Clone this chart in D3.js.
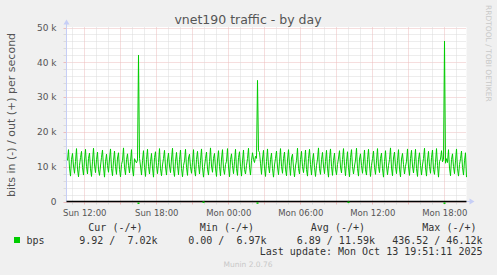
<!DOCTYPE html>
<html>
<head>
<meta charset="utf-8">
<script src="https://cdn.jsdelivr.net/npm/d3@7"></script>
<style>
  body { margin: 0; background: #f0f0f0; }
  svg { display: block; }
  text { font-family: "DejaVu Sans", sans-serif; }
  .mono { font-family: "DejaVu Sans Mono", monospace; white-space: pre; }
</style>
</head>
<body>
<div id="chart"></div>
<script>
const W = 497, H = 275;
const plotLeft = 66.5, plotRight = 466.5, plotTop = 27.5, plotBottom = 201.5;

// one sample every 5 minutes, 400 samples ending at the last update
const startTime = new Date(2025, 9, 12, 10, 31, 11);
const endTime = new Date(2025, 9, 13, 19, 51, 11);
const stepMs = 5 * 60 * 1000;

// out traffic, k bits per second
const outKbps = [
  11.8, 14.9, 9.6, 7.3, 12.1, 13.8, 10.2, 8.1, 11.5, 15.2, 9.3, 7.1, 10.4, 12.6, 14.4, 9.8, 7.6, 11.9, 15.0, 10.1,
  7.9, 12.4, 13.9, 9.4, 7.2, 11.6, 15.3, 10.5, 8.3, 12.0, 14.2, 9.1, 7.5, 10.2, 12.7, 14.8, 9.9, 7.0, 11.4, 13.6,
  10.3, 8.4, 12.2, 15.1, 9.5, 7.4, 11.7, 14.5, 10.0, 7.8, 12.5, 14.0, 9.2, 7.1, 10.6, 11.8, 15.4, 9.7, 7.7, 12.0,
  13.7, 10.4, 8.2, 11.5, 14.9, 9.3, 7.3, 12.3, 11.6, 11.1, 11.9, 42.1, 12.4, 10.2, 7.6, 11.8, 14.6, 9.8, 7.2, 12.1,
  15.0, 10.1, 7.9, 11.4, 13.8, 9.6, 7.0, 12.6, 14.3, 10.3, 8.0, 11.2, 15.2, 9.4, 7.4, 10.5, 12.4, 14.7, 9.9, 7.6,
  11.9, 13.9, 10.2, 8.3, 12.2, 15.3, 9.1, 7.2, 11.6, 14.1, 10.4, 7.7, 12.0, 14.8, 9.5, 7.1, 10.3, 11.7, 15.0, 9.8,
  7.5, 12.5, 13.6, 10.0, 8.1, 11.3, 14.9, 9.2, 7.3, 12.1, 14.4, 10.6, 7.9, 11.8, 15.1, 9.7, 7.0, 10.1, 12.3, 14.2,
  9.3, 7.6, 11.5, 15.4, 10.2, 8.4, 12.4, 13.8, 9.6, 7.2, 11.9, 14.6, 10.0, 7.4, 12.2, 14.9, 9.4, 7.8, 10.6, 11.6,
  15.2, 9.9, 7.1, 12.0, 13.7, 10.3, 8.0, 11.4, 15.0, 9.5, 7.5, 12.6, 14.3, 10.1, 7.3, 11.7, 14.8, 9.2, 7.9, 10.4,
  12.3, 15.3, 9.8, 7.6, 11.8, 14.0, 12.1, 11.2, 13.0, 12.4, 34.8, 14.6, 14.1, 11.0, 7.8, 12.2, 14.7, 9.6, 7.2, 11.5,
  15.1, 10.3, 8.2, 12.0, 13.9, 9.4, 7.0, 10.5, 12.4, 14.5, 9.9, 7.7, 11.6, 15.2, 10.1, 8.1, 12.3, 14.2, 9.3, 7.4,
  11.9, 14.9, 10.4, 7.5, 12.5, 13.6, 9.7, 7.1, 10.2, 11.8, 15.3, 9.5, 7.9, 12.1, 14.4, 10.0, 8.3, 11.3, 14.8, 9.2,
  7.3, 12.4, 15.0, 10.6, 7.6, 11.7, 13.8, 9.8, 7.2, 10.3, 12.2, 15.4, 9.4, 7.8, 12.0, 14.1, 10.2, 8.0, 11.5, 14.7,
  9.6, 7.0, 12.3, 15.1, 10.1, 7.5, 11.8, 13.9, 9.3, 7.7, 10.6, 12.5, 14.6, 9.9, 8.2, 12.1, 15.2, 10.4, 7.4, 11.4,
  14.3, 9.7, 7.1, 12.6, 14.9, 10.0, 7.9, 10.2, 11.9, 15.3, 9.5, 7.3, 12.2, 13.7, 10.3, 8.1, 11.6, 14.8, 9.1, 7.6,
  12.0, 15.0, 10.5, 7.2, 10.4, 12.3, 14.5, 9.8, 7.8, 11.7, 15.2, 10.1, 8.3, 12.4, 13.9, 9.4, 7.0, 11.5, 14.6, 10.2,
  7.7, 10.3, 12.1, 15.4, 9.6, 7.4, 12.5, 14.2, 10.0, 8.0, 11.8, 14.9, 9.3, 7.1, 12.2, 13.8, 10.6, 7.9, 10.1, 11.6,
  15.1, 9.9, 7.5, 12.3, 14.7, 10.2, 8.2, 11.4, 15.0, 9.5, 7.2, 12.0, 14.0, 10.4, 7.6, 10.5, 12.4, 15.3, 9.7, 7.3,
  11.9, 14.4, 10.1, 8.1, 12.6, 14.8, 9.2, 7.8, 11.3, 15.2, 10.3, 7.0, 11.5, 12.2, 14.6, 11.4, 12.1, 46.1, 11.0, 12.3,
  11.2, 14.9, 9.6, 7.4, 12.1, 13.7, 10.0, 8.0, 11.7, 15.1, 9.4, 7.3, 10.6, 12.3, 14.5, 9.8, 7.6, 11.8, 14.0, 7.0
];

// in traffic is zero except a few tiny bursts (bits per second)
const inBurstIndex = [71, 136, 190, 281, 377];
const inBurstBps = [436.5, 120.0, 380.0, 150.0, 410.0];

const yTicks = [0, 10000, 20000, 30000, 40000, 50000];
const yTickLabels = ["0", "10 k", "20 k", "30 k", "40 k", "50 k"];
const xTickLabels = ["Sun 12:00", "Sun 18:00", "Mon 00:00", "Mon 06:00", "Mon 12:00", "Mon 18:00"];

const title = "vnet190 traffic - by day";
const yLabel = "bits in (-) / out (+) per second";
const seriesName = "bps";
const legendHeads = ["Cur (-/+)", "Min (-/+)", "Avg (-/+)", "Max (-/+)"];
const legendCells = ["9.92 /  7.02k", "0.00 /  6.97k", "6.89 / 11.59k", "436.52 / 46.12k"];
const lastUpdate = "Last update: Mon Oct 13 19:51:11 2025";
const version = "Munin 2.0.76";
const watermark = "RRDTOOL / TOBI OETIKER";

const green = "#00cc00", minorGrid = "#dadada", majorGrid = "#ecbcbc", axisBlue = "#c6cef6", textCol = "#555";

const svg = d3.select("#chart").append("svg").attr("width", W).attr("height", H);

const x = d3.scaleTime().domain([startTime, endTime]).range([plotLeft, plotRight]);
const y = d3.scaleLinear().domain([0, 50000]).range([plotBottom, plotTop]);

// canvas
svg.append("rect").attr("x", plotLeft).attr("y", plotTop - 0.5)
  .attr("width", plotRight - plotLeft).attr("height", plotBottom - plotTop + 0.5).attr("fill", "#fff");

// grid
const minorY = d3.range(0, 50001, 2000);
const hours = d3.timeHour.range(startTime, endTime);
const grid = svg.append("g").attr("stroke-dasharray", "1,1").attr("stroke-width", 1);
grid.selectAll(".gy").data(minorY).enter().append("line")
  .attr("x1", plotLeft).attr("x2", plotRight)
  .attr("y1", d => Math.round(y(d)) + 0.5).attr("y2", d => Math.round(y(d)) + 0.5)
  .attr("stroke", d => d % 10000 === 0 ? majorGrid : minorGrid);
grid.selectAll(".gx").data(hours).enter().append("line")
  .attr("x1", d => Math.round(x(d)) + 0.5).attr("x2", d => Math.round(x(d)) + 0.5)
  .attr("y1", plotTop).attr("y2", plotBottom)
  .attr("stroke", d => d.getHours() % 3 === 0 ? majorGrid : minorGrid);

// small ticks outside the canvas
svg.append("g").selectAll("line").data(minorY).enter().append("line")
  .attr("x1", plotLeft - 3).attr("x2", plotLeft)
  .attr("y1", d => Math.round(y(d)) + 0.5).attr("y2", d => Math.round(y(d)) + 0.5)
  .attr("stroke", d => d % 10000 === 0 ? majorGrid : minorGrid);
svg.append("g").selectAll("line").data(hours).enter().append("line")
  .attr("x1", d => Math.round(x(d)) + 0.5).attr("x2", d => Math.round(x(d)) + 0.5)
  .attr("y1", plotBottom).attr("y2", plotBottom + 3)
  .attr("stroke", d => d.getHours() % 3 === 0 ? majorGrid : minorGrid);

// data
const sampleTime = i => new Date(startTime.getTime() + (i + 1) * stepMs);
svg.append("defs").append("clipPath").attr("id", "clip").append("rect")
  .attr("x", plotLeft).attr("y", plotTop - 1).attr("width", plotRight - plotLeft + 1).attr("height", plotBottom - plotTop + 2);
const line = d3.line().x((d, i) => x(sampleTime(i))).y(d => y(d * 1000));
svg.append("path").datum(outKbps).attr("clip-path", "url(#clip)")
  .attr("d", line).attr("fill", "none").attr("stroke", green).attr("stroke-width", 1);

// axes
svg.append("line").attr("x1", plotLeft).attr("x2", plotLeft).attr("y1", plotTop - 4).attr("y2", plotBottom)
  .attr("stroke", axisBlue);
svg.append("path").attr("d", `M${plotLeft - 3},${plotTop - 3}L${plotLeft},${plotTop - 8}L${plotLeft + 3},${plotTop - 3}Z`).attr("fill", axisBlue);
svg.append("line").attr("x1", plotRight).attr("x2", plotRight + 4).attr("y1", plotBottom).attr("y2", plotBottom).attr("stroke", axisBlue);
svg.append("path").attr("d", `M${plotRight + 3},${plotBottom - 3}L${plotRight + 8},${plotBottom}L${plotRight + 3},${plotBottom + 3}Z`).attr("fill", axisBlue);
svg.append("line").attr("x1", plotLeft).attr("x2", plotRight).attr("y1", y(0)).attr("y2", y(0))
  .attr("stroke", "#000").attr("stroke-width", 1.5);

// in bursts show as green specks on the zero line
svg.append("g").selectAll("rect").data(inBurstIndex).enter().append("rect")
  .attr("x", d => x(sampleTime(d)) - 1).attr("y", (d, i) => y(-inBurstBps[i]) - 0.5)
  .attr("width", 2).attr("height", 1.5).attr("fill", green);

// tick labels
const yAxis = svg.append("g").attr("transform", `translate(${plotLeft - 7},0)`)
  .call(d3.axisLeft(y).tickValues(yTicks).tickFormat((d, i) => yTickLabels[i]).tickSize(0));
yAxis.select(".domain").remove();
yAxis.selectAll("text").attr("font-family", "DejaVu Sans").attr("font-size", 9).attr("fill", textCol).attr("dx", 0);

const xTimes = d3.timeHour.every(6).range(startTime, endTime);
const xAxis = svg.append("g").attr("transform", `translate(0,${plotBottom})`)
  .call(d3.axisBottom(x).tickValues(xTimes).tickFormat((d, i) => xTickLabels[i]).tickSize(0).tickPadding(8));
xAxis.select(".domain").remove();
xAxis.selectAll("text").attr("font-family", "DejaVu Sans").attr("font-size", 8.5).attr("fill", textCol);

// titles
svg.append("text").attr("x", 248).attr("y", 24).attr("text-anchor", "middle")
  .attr("font-size", 12.5).attr("fill", textCol).text(title);
svg.append("text").attr("transform", "translate(14.5,115) rotate(-90)").attr("text-anchor", "middle")
  .attr("font-size", 11).attr("fill", textCol).text(yLabel);
svg.append("text").attr("transform", "translate(485.5,5) rotate(90)")
  .attr("font-size", 7.5).attr("fill", "#c8c8c8").text(watermark);

// legend
const headEnds = [142.5, 254, 365, 476.5];
const cellEnds = [157.5, 266.5, 375, 482.5];
svg.append("g").selectAll("text").data(legendHeads).enter().append("text")
  .attr("class", "mono").attr("x", (d, i) => headEnds[i]).attr("y", 231).attr("text-anchor", "end")
  .attr("font-size", 10).attr("fill", "#333").text(d => d);
svg.append("rect").attr("x", 14).attr("y", 237).attr("width", 6).attr("height", 6).attr("fill", green);
svg.append("text").attr("class", "mono").attr("x", 26.5).attr("y", 243.5)
  .attr("font-size", 10).attr("fill", "#333").text(seriesName);
svg.append("g").selectAll("text").data(legendCells).enter().append("text")
  .attr("class", "mono").attr("x", (d, i) => cellEnds[i]).attr("y", 243.5).attr("text-anchor", "end")
  .attr("font-size", 10).attr("fill", "#333").text(d => d);
svg.append("text").attr("class", "mono").attr("x", 482.5).attr("y", 255).attr("text-anchor", "end")
  .attr("font-size", 10).attr("fill", "#333").text(lastUpdate);
svg.append("text").attr("x", 248).attr("y", 266.5).attr("text-anchor", "middle")
  .attr("font-size", 7.5).attr("fill", "#c8c8c8").text(version);
</script>
</body>
</html>
